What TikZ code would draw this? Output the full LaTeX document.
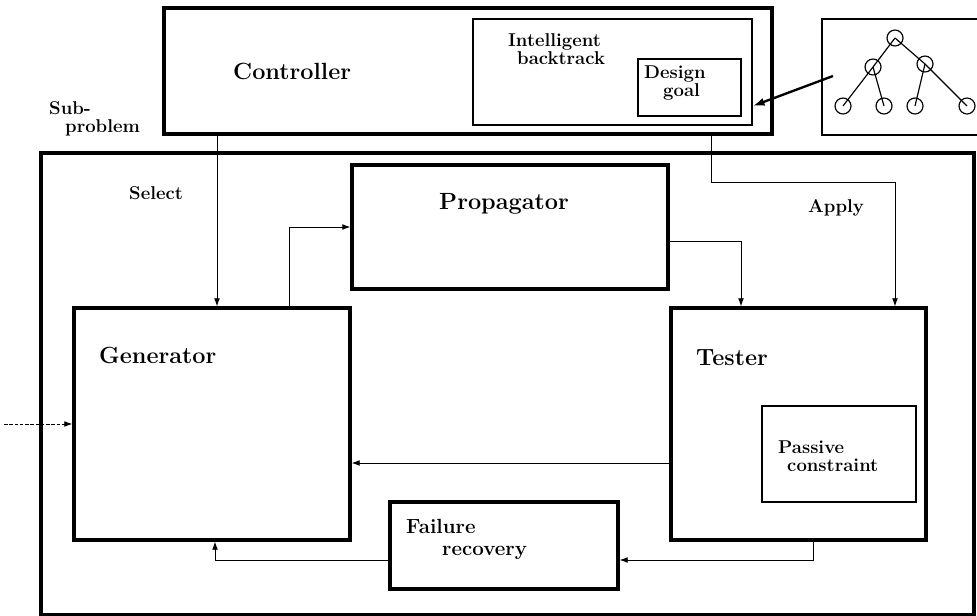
\documentclass[tikz,border=0pt]{standalone}
\usepackage{fontspec}
\usetikzlibrary{arrows.meta,positioning}

\begin{document}
\begin{tikzpicture}[x=0.03cm,y=-0.03cm,
  heavybox/.style={draw,line width=2.6pt,inner sep=0pt},
  lightbox/.style={draw,line width=1.3pt,inner sep=0pt},
  biglabel/.style={inner sep=0pt,anchor=base west,font=\fontsize{20}{21}\selectfont\bfseries},
  smalllabel/.style={inner sep=0pt,anchor=base west,align=left,font=\fontsize{15.8}{15}\selectfont\bfseries},
  flow/.style={line width=0.8pt,-{Latex[length=7pt,width=5pt]}},
  treenode/.style={draw,circle,line width=1pt,minimum size=0.48cm,inner sep=0pt}
]
  \useasboundingbox (0,0) rectangle (977,616);
  % outer frame
  \node[draw,line width=3.4pt,minimum width=27.99cm,minimum height=13.86cm] (frame) at (507.5,384) {};
  % Controller with backtracking
  \node[heavybox,minimum width=18.24cm,minimum height=3.78cm] (ctrl) at (468,71) {};
  \node[lightbox,minimum width=8.37cm,minimum height=3.18cm] (ib) at (612.5,72) {};
  \node[lightbox,minimum width=3.09cm,minimum height=1.71cm] (dg) at (689.5,87.5) {};
  % Search tree
  \node[lightbox,minimum width=4.8cm,minimum height=3.48cm] (treebox) at (902,77) {};
  \node[treenode] (root) at (895,38) {};
  \node[treenode] (tl) at (873,67) {};
  \node[treenode] (tr) at (925,64) {};
  \node[treenode] (tll) at (843,106) {};
  \node[treenode] (tlr) at (884,106) {};
  \node[treenode] (trl) at (915,106) {};
  \node[treenode] (trr) at (967,106) {};
  \foreach \a/\b in {root/tl,root/tr,tl/tll,tl/tlr,tr/trl,tr/trr}
    \draw[line width=1pt] (\a.center) -- (\b.center);
  % Modules
  \node[heavybox,minimum width=9.48cm,minimum height=3.72cm] (prop) at (510,227) {};
  \node[heavybox,minimum width=8.28cm,minimum height=6.96cm] (gen) at (212,424) {};
  \node[heavybox,minimum width=7.65cm,minimum height=6.96cm] (tst) at (798.5,424) {};
  \node[lightbox,minimum width=4.62cm,minimum height=2.88cm] (pc) at (839,454) {};
  \node[heavybox,minimum width=6.84cm,minimum height=2.61cm] (fail) at (504,545.5) {};

  % Labels (two-line ones sit on their last baseline)
  \node[biglabel] (ctrltxt) at (233,79) {Controller};
  \node[smalllabel] (subtxt) at (49,132) {Sub-\\\hspace*{0.48cm}problem};
  \node[smalllabel] (seltxt) at (129,199) {Select};
  \node[smalllabel] (ibtxt) at (508,64) {Intelligent\\\hspace*{0.27cm}backtrack};
  \node[smalllabel] (dgtxt) at (644,96) {Design\\\hspace*{0.57cm}goal};
  \node[smalllabel] (aptxt) at (808,212) {Apply};
  \node[biglabel] (proptxt) at (439,209) {Propagator};
  \node[biglabel] (gentxt) at (99,363) {Generator};
  \node[biglabel] (tsttxt) at (696,365) {Tester};
  \node[smalllabel] (pctxt) at (778,471) {Passive\\\hspace*{0.27cm}constraint};
  \node[smalllabel,font=\fontsize{17.5}{18}\selectfont\bfseries] (frtxt) at (406,555) {Failure\\\hspace*{1.08cm}recovery};

  % Connectors
  \coordinate (selx) at (217,0);
  \coordinate (apbend) at (711,182);
  \coordinate (apx) at (895,0);
  \coordinate (gpx) at (289,0);
  \coordinate (ptx) at (741,0);
  \coordinate (tgy) at (0,463);
  \coordinate (tfx) at (813,0);
  \coordinate (tfy) at (0,560);
  \coordinate (frx) at (215,0);
  \coordinate (inp) at (4,424);
  \coordinate (trstart) at (833,76);
  \draw[flow] (ctrl.south -| selx) -- (gen.north -| selx);
  \draw[flow] (ctrl.south -| apbend) -- (apbend) -| (tst.north -| apx);
  \draw[flow] (gen.north -| gpx) |- (prop.west);
  \draw[flow] ([yshift=-0.42cm]prop.east) -| (tst.north -| ptx);
  \draw[flow] (tst.west |- tgy) -- (gen.east |- tgy);
  \draw[flow] (tst.south -| tfx) |- (fail.east |- tfy);
  \draw[flow] (fail.west |- tfy) -| (gen.south -| frx);
  \draw[flow,dash pattern=on 3pt off 1.5pt] (inp) -- (gen.west);
  \draw[line width=2pt,-{Latex[length=10pt,width=7pt]}] (trstart) -- ([yshift=-1.02cm]ib.east);
\end{tikzpicture}
\end{document}
